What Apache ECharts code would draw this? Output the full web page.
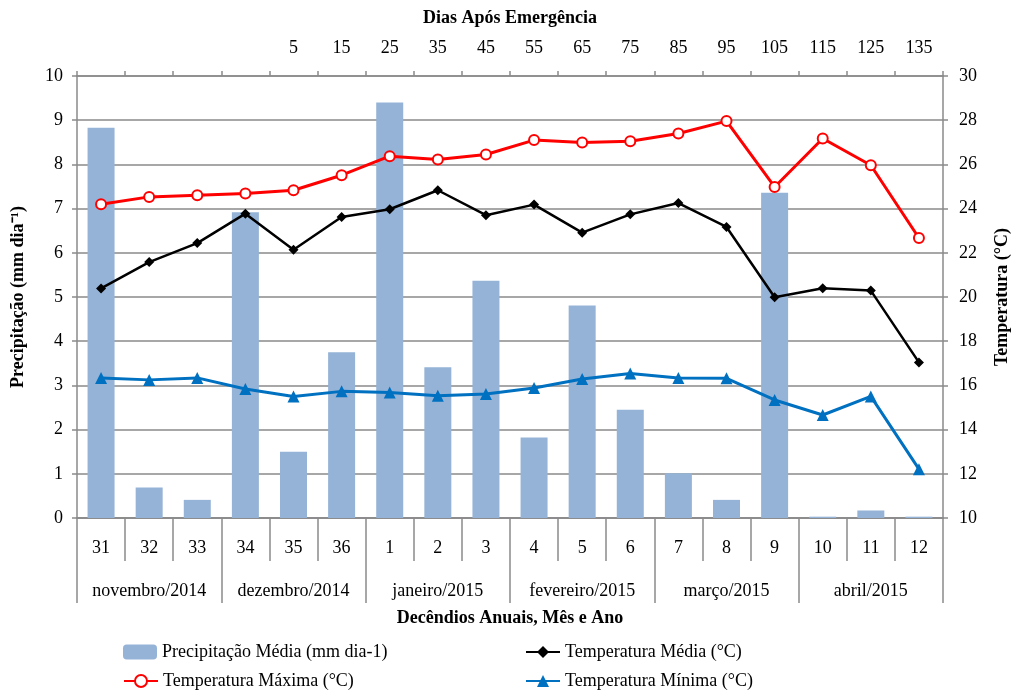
<!DOCTYPE html>
<html><head><meta charset="utf-8">
<script src="https://cdn.jsdelivr.net/npm/echarts@6/dist/echarts.min.js"></script>
<style>html,body{margin:0;padding:0;background:#fff}#c{width:1015px;height:691px}</style>
</head><body><div id="c"></div>
<script>
const categories = ['31','32','33','34','35','36','1','2','3','4','5','6','7','8','9','10','11','12'];
const months = ['novembro/2014','dezembro/2014','janeiro/2015','fevereiro/2015','março/2015','abril/2015'];
const daeLabels = ['','','','','5','15','25','35','45','55','65','75','85','95','105','115','125','135'];
const precip = [8.83,0.69,0.41,6.92,1.50,3.75,9.40,3.41,5.37,1.82,4.81,2.45,1.01,0.41,7.36,0.03,0.17,0.03];
const tMax = [24.2,24.53,24.6,24.68,24.83,25.51,26.37,26.22,26.45,27.1,26.99,27.05,27.4,27.96,24.98,27.17,25.96,22.67];
const tMed = [20.39,21.58,22.44,23.77,22.14,23.62,23.97,24.83,23.70,24.18,22.91,23.74,24.25,23.17,19.99,20.40,20.29,17.04];
const tMin = [16.34,16.25,16.34,15.84,15.5,15.73,15.68,15.53,15.61,15.88,16.29,16.54,16.34,16.32,15.34,14.66,15.5,12.21];

const F = 'Liberation Serif, Times New Roman, serif';
const G = '#8a8a8a';
const lbl = {color:'#000', fontFamily:F, fontSize:18};
const chart = echarts.init(document.getElementById('c'), null, {renderer:'canvas'});
const leg = (left, top, name) => ({left:left, top:top, padding:0, itemWidth:34, itemHeight:15, itemGap:0,
  textStyle:{color:'#000', fontFamily:F, fontSize:18}, data:[name]});
chart.setOption({
  animation:false,
  grid:{left:77, right:72, top:76, bottom:173, containLabel:false, outerBoundsMode:'none'},
  xAxis:[
    {type:'category', data:categories, position:'bottom', gridIndex:0,
     axisLine:{lineStyle:{color:G, width:1.5}},
     axisTick:{show:true, length:43, lineStyle:{color:G, width:1.5}},
     axisLabel:Object.assign({margin:21, interval:0}, lbl)},
    {type:'category', data:months, position:'bottom', gridIndex:0,
     axisLine:{lineStyle:{color:G, width:1.5}},
     axisTick:{show:true, length:85, lineStyle:{color:G, width:1.5}},
     axisLabel:Object.assign({margin:64, interval:0}, lbl),
     name:'Decêndios Anuais, Mês e Ano', nameLocation:'middle', nameGap:91,
     nameTextStyle:{color:'#000', fontFamily:F, fontSize:18, fontWeight:'bold'}},
    {type:'category', data:daeLabels, position:'top', gridIndex:0,
     axisLine:{lineStyle:{color:G, width:1.5}},
     axisTick:{show:true, length:5, lineStyle:{color:G, width:1.5}},
     axisLabel:Object.assign({margin:19, interval:0}, lbl),
     name:'Dias Após Emergência', nameLocation:'middle', nameGap:49,
     nameTextStyle:{color:'#000', fontFamily:F, fontSize:18, fontWeight:'bold'}}
  ],
  yAxis:[
    {type:'value', min:0, max:10, interval:1, position:'left',
     axisLine:{show:true, lineStyle:{color:G, width:1.5}},
     axisTick:{show:true, length:5, lineStyle:{color:G, width:1.5}},
     axisLabel:Object.assign({margin:14}, lbl),
     splitLine:{show:true, lineStyle:{color:G, width:1.5}},
     name:'Precipitação (mm dia⁻¹)', nameLocation:'middle', nameGap:50, nameRotate:90,
     nameTextStyle:{color:'#000', fontFamily:F, fontSize:18, fontWeight:'bold'}},
    {type:'value', min:10, max:30, interval:2, position:'right',
     axisLine:{show:true, lineStyle:{color:G, width:1.5}},
     axisTick:{show:true, length:5, lineStyle:{color:G, width:1.5}},
     axisLabel:Object.assign({margin:16}, lbl),
     splitLine:{show:false},
     name:'Temperatura (°C)', nameLocation:'middle', nameGap:50, nameRotate:90,
     nameTextStyle:{color:'#000', fontFamily:F, fontSize:18, fontWeight:'bold'}}
  ],
  legend:[
    leg(123, 643, 'Precipitação Média (mm dia-1)'),
    leg(525, 643, 'Temperatura Média (°C)'),
    leg(123, 672, 'Temperatura Máxima (°C)'),
    leg(525, 672, 'Temperatura Mínima (°C)')
  ],
  series:[
    {name:'Precipitação Média (mm dia-1)', type:'bar', xAxisIndex:0, yAxisIndex:0, data:precip,
     barWidth:27, itemStyle:{color:'#95B3D7'}},
    {name:'Temperatura Média (°C)', type:'line', xAxisIndex:0, yAxisIndex:1, data:tMed,
     symbol:'diamond', symbolSize:10, lineStyle:{color:'#000', width:2.5}, itemStyle:{color:'#000'}},
    {name:'Temperatura Máxima (°C)', type:'line', xAxisIndex:0, yAxisIndex:1, data:tMax,
     symbol:'emptyCircle', symbolSize:10, lineStyle:{color:'#ff0000', width:3}, itemStyle:{color:'#ff0000', borderWidth:2}},
    {name:'Temperatura Mínima (°C)', type:'line', xAxisIndex:0, yAxisIndex:1, data:tMin,
     symbol:'triangle', symbolSize:12, lineStyle:{color:'#0070C0', width:3}, itemStyle:{color:'#0070C0'}}
  ]
});
</script></body></html>
